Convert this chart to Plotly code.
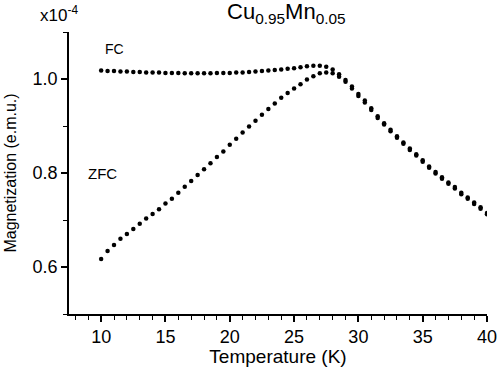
import plotly.graph_objects as go

temperature = [10.0, 10.5, 11.0, 11.5, 12.0, 12.5, 13.0, 13.5, 14.0, 14.5, 15.0, 15.5, 16.0, 16.5,
               17.0, 17.5, 18.0, 18.5, 19.0, 19.5, 20.0, 20.5, 21.0, 21.5, 22.0, 22.5, 23.0, 23.5,
               24.0, 24.5, 25.0, 25.5, 26.0, 26.5, 27.0, 27.5, 28.0, 28.5, 29.0, 29.5, 30.0, 30.5,
               31.0, 31.5, 32.0, 32.5, 33.0, 33.5, 34.0, 34.5, 35.0, 35.5, 36.0, 36.5, 37.0, 37.5,
               38.0, 38.5, 39.0, 39.5, 40.0]

fc = [1.018, 1.017, 1.017, 1.016, 1.016, 1.015, 1.015, 1.014, 1.014, 1.014, 1.013, 1.013, 1.013, 1.012,
      1.012, 1.012, 1.012, 1.012, 1.013, 1.013, 1.013, 1.014, 1.014, 1.015, 1.016, 1.017, 1.018, 1.019,
      1.020, 1.022, 1.023, 1.025, 1.027, 1.028, 1.028, 1.026, 1.020, 1.010, 0.998, 0.984, 0.968, 0.954,
      0.938, 0.921, 0.906, 0.892, 0.878, 0.865, 0.852, 0.840, 0.827, 0.814, 0.802, 0.791, 0.780, 0.770,
      0.758, 0.748, 0.737, 0.727, 0.715]

zfc = [0.617, 0.634, 0.647, 0.660, 0.670, 0.681, 0.692, 0.703, 0.713, 0.723, 0.735, 0.745, 0.758, 0.771,
       0.783, 0.796, 0.808, 0.821, 0.834, 0.846, 0.860, 0.873, 0.886, 0.899, 0.911, 0.924, 0.936, 0.948,
       0.960, 0.970, 0.980, 0.989, 0.999, 1.006, 1.012, 1.014, 1.012, 1.005, 0.994, 0.980, 0.964, 0.950,
       0.934, 0.917, 0.903, 0.889, 0.875, 0.862, 0.849, 0.837, 0.824, 0.811, 0.799, 0.788, 0.777, 0.767,
       0.755, 0.745, 0.734, 0.724, 0.712]

FONT = "Liberation Sans, Arial, sans-serif"

fig = go.Figure()
fig.add_trace(go.Scatter(x=temperature, y=fc, mode="markers", name="FC",
                         marker=dict(color="black", size=4.5)))
fig.add_trace(go.Scatter(x=temperature, y=zfc, mode="markers", name="ZFC",
                         marker=dict(color="black", size=4.5)))

fig.update_layout(
    width=498, height=367,
    margin=dict(l=69, r=11, t=32, b=53),
    paper_bgcolor="white", plot_bgcolor="white",
    showlegend=False,
    font=dict(family=FONT, color="black"),
    xaxis=dict(
        range=[7.5, 40], showgrid=False, zeroline=False, automargin=False,
        showline=True, linecolor="black", linewidth=1.5,
        ticks="outside", ticklen=6, tickwidth=1.5, tickcolor="black",
        tick0=10, dtick=5,
        minor=dict(ticks="outside", ticklen=4, tickwidth=1.2, tickcolor="black", dtick=1, tick0=0),
        tickfont=dict(size=18),
        title=dict(text="Temperature (K)", font=dict(size=19), standoff=3),
    ),
    yaxis=dict(
        range=[0.5, 1.1], showgrid=False, zeroline=False, automargin=False,
        showline=True, linecolor="black", linewidth=1.5,
        ticks="outside", ticklen=6, tickwidth=1.5, tickcolor="black",
        tick0=0.6, dtick=0.2, tickformat=".1f",
        minor=dict(ticks="outside", ticklen=4, tickwidth=1.2, tickcolor="black", dtick=0.1, tick0=0.5),
        tickfont=dict(size=18),
        title=dict(text="Magnetization (e.m.u.)", font=dict(size=16), standoff=12),
    ),
    annotations=[
        dict(text="Cu<sub>0.95</sub>Mn<sub>0.05</sub>", xref="paper", yref="paper",
             x=0.52, y=1.066, xanchor="center", yanchor="middle", showarrow=False,
             font=dict(size=22)),
        dict(text="x10<sup>-4</sup>", xref="paper", yref="paper",
             x=-0.024, y=1.065, xanchor="center", yanchor="middle", showarrow=False,
             font=dict(size=17)),
        dict(text="FC", xref="x", yref="y", x=11.0, y=1.064, showarrow=False,
             xanchor="center", yanchor="middle", font=dict(size=14)),
        dict(text="ZFC", xref="x", yref="y", x=10.1, y=0.798, showarrow=False,
             xanchor="center", yanchor="middle", font=dict(size=15)),
    ],
)

fig.write_html("out.html", config={"displayModeBar": False},
               post_script="document.body.style.margin='0';document.body.style.overflow='hidden';")
